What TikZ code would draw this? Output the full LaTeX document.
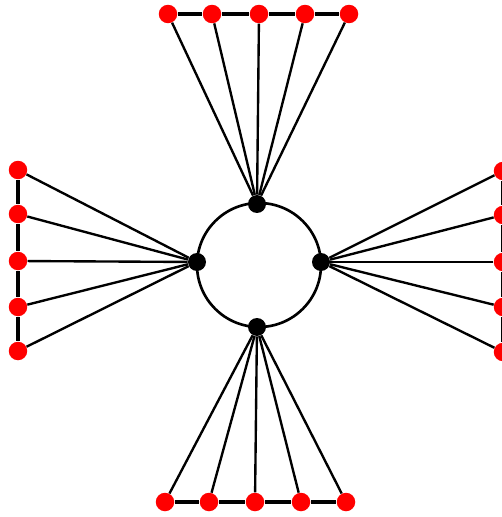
\documentclass[tikz,border=0pt]{standalone}
\usetikzlibrary{calc}

\begin{document}
\begin{tikzpicture}[x=0.02cm, y=-0.02cm,
    leaf/.style={circle, fill=red, inner sep=0pt, minimum size=0.37cm},
    hub/.style={circle, fill=black, inner sep=0pt, minimum size=0.36cm},
    spoke/.style={black, line width=1.35pt},
    rail/.style={black, line width=2.8pt}]

    % ==========================================
    % 1. FRAME & CENTRAL RING
    % ==========================================
    \useasboundingbox (0, 0) rectangle (502, 517);

    \draw[black, line width=1.5pt] (259, 265) circle (62);

    % Hubs sitting on the ring
    \node[hub] (hn) at (257, 204) {};
    \node[hub] (hw) at (197, 262) {};
    \node[hub] (he) at (321, 262) {};
    \node[hub] (hs) at (257, 327) {};

    % ==========================================
    % 2. OUTER LEAVES (five per side)
    % ==========================================
    \foreach \x [count=\i] in {168, 212, 259, 305, 349} {
        \node[leaf] (t\i) at (\x, 14) {};
    }
    \foreach \y [count=\i] in {170, 214, 261, 307, 351} {
        \node[leaf] (l\i) at (18, \y) {};
    }
    \foreach \y [count=\i] in {171, 215, 262, 307, 352} {
        \node[leaf] (r\i) at (503, \y) {};
    }
    \foreach \x [count=\i] in {165, 209, 255, 301, 346} {
        \node[leaf] (b\i) at (\x, 502) {};
    }

    % ==========================================
    % 3. RAILS BETWEEN NEIGHBOURING LEAVES
    % ==========================================
    \foreach \i [count=\j from 2] in {1, ..., 4} {
        \draw[rail] (t\i) -- (t\j);
        \draw[rail] (l\i) -- (l\j);
        \draw[rail] (r\i) -- (r\j);
        \draw[rail] (b\i) -- (b\j);
    }

    % ==========================================
    % 4. FANS FROM LEAVES TO HUBS
    % ==========================================
    \foreach \i in {1, ..., 5} {
        \draw[spoke] (t\i) -- (hn);
        \draw[spoke] (l\i) -- (hw);
        \draw[spoke] (r\i) -- (he);
        \draw[spoke] (b\i) -- (hs);
    }

\end{tikzpicture}
\end{document}
